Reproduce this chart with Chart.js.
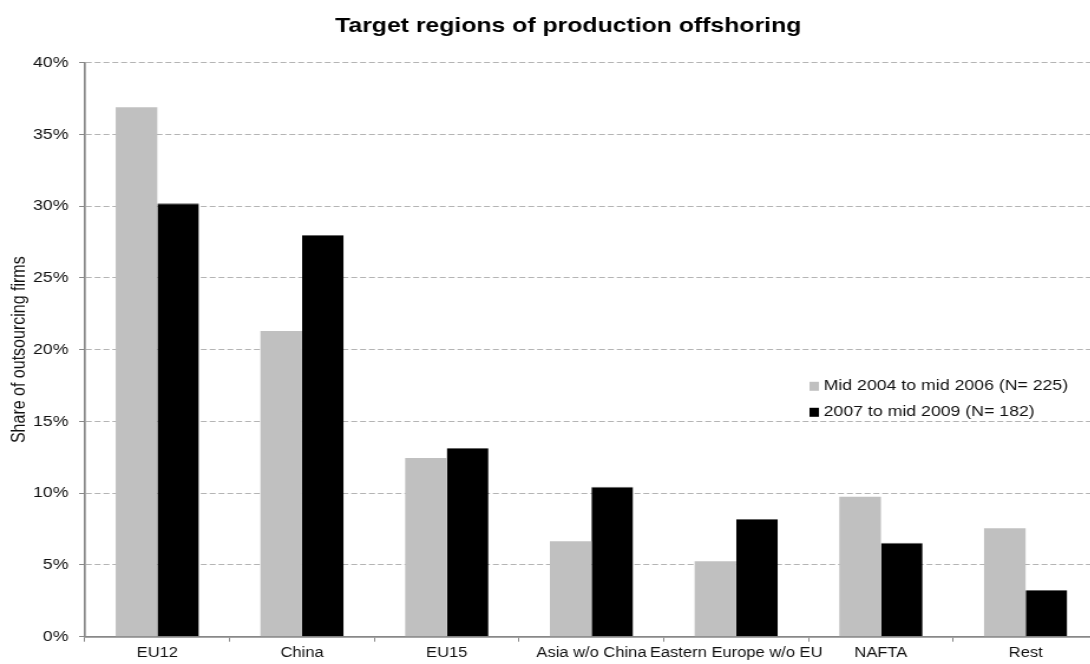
<!DOCTYPE html>
<html>
<head>
<meta charset="utf-8">
<script src="https://cdn.jsdelivr.net/npm/chart.js@4"></script>
<style>
  html, body { margin: 0; padding: 0; background: #fff; overflow: hidden; }
  /* chart is drawn narrow and widened to the page */
  #wrap { position: absolute; left: 0; top: 0; width: 963px; height: 664px; transform: scaleX(1.18); transform-origin: 0 0; }
</style>
</head>
<body>
<div id="wrap"><canvas id="offshoring" width="963" height="664"></canvas></div>
<script>
const regions = ['EU12', 'China', 'EU15', 'Asia w/o China', 'Eastern Europe w/o EU', 'NAFTA', 'Rest'];
const period1 = [36.9, 21.3, 12.45, 6.65, 5.25, 9.75, 7.55];
const period2 = [30.2, 28.0, 13.15, 10.45, 8.2, 6.55, 3.25];
const seriesNames = ['Mid 2004 to mid 2006 (N= 225)', '2007 to mid 2009 (N= 182)'];
const seriesColors = ['#c0c0c0', '#000000'];
const chartTitle = 'Target regions of production offshoring';

const FONT = '"Liberation Sans", Arial, sans-serif';

// title centred on the whole canvas, legend inside the plot on the right
const extras = {
  id: 'extras',
  afterDraw(chart) {
    const c = chart.ctx;
    const y = chart.scales.y;
    c.save();
    c.fillStyle = '#000';
    c.font = 'bold 21px ' + FONT;
    c.textAlign = 'center';
    c.textBaseline = 'middle';
    c.fillText(chartTitle, chart.width / 2, 26);

    c.font = '15px ' + FONT;
    c.textAlign = 'left';
    chart.data.datasets.forEach((ds, i) => {
      const cy = y.getPixelForValue(17.45) + i * 26;
      c.fillStyle = ds.backgroundColor;
      c.fillRect(686, cy - 4.5, 8, 9);
      c.fillStyle = '#111';
      c.fillText(ds.label, 698, cy);
    });
    c.restore();
  }
};

new Chart(document.getElementById('offshoring'), {
  type: 'bar',
  data: {
    labels: regions,
    datasets: [
      { label: seriesNames[0], data: period1, backgroundColor: seriesColors[0] },
      { label: seriesNames[1], data: period2, backgroundColor: seriesColors[1], borderColor: '#666', borderWidth: { top: 1, left: 0, right: 0, bottom: 0 } }
    ]
  },
  options: {
    responsive: false,
    animation: false,
    categoryPercentage: 0.575,
    barPercentage: 1.0,
    layout: { padding: { left: 0, right: 32.5, top: 62.7, bottom: 0 } },
    plugins: {
      legend: { display: false },
      tooltip: { enabled: false },
      title: { display: false }
    },
    scales: {
      x: {
        offset: true,
        grid: { offset: true, drawOnChartArea: false, drawTicks: true, tickLength: 5, color: '#888', tickColor: '#888' },
        border: { color: '#888', width: 1.7 },
        ticks: {
          color: '#111',
          font: { family: FONT, size: 14 },
          padding: 3,
          maxRotation: 0,
          autoSkip: false
        },
        afterFit(scale) { scale.height = 27.3; }
      },
      y: {
        min: 0,
        max: 40,
        ticks: {
          stepSize: 5,
          color: '#111',
          font: { family: FONT, size: 15 },
          padding: 9,
          callback: v => v + '%'
        },
        grid: { color: '#b4b4b4', tickLength: 5, tickColor: '#888', tickBorderDash: [] },
        border: { color: '#888', width: 1.7, dash: [5, 2.5] },
        title: {
          display: true,
          text: 'Share of outsourcing firms',
          color: '#111',
          font: { family: FONT, size: 16 },
          padding: { top: 6.5, bottom: 0 }
        },
        afterFit(scale) { scale.width = 72; }
      }
    }
  },
  plugins: [extras]
});
</script>
</body>
</html>
